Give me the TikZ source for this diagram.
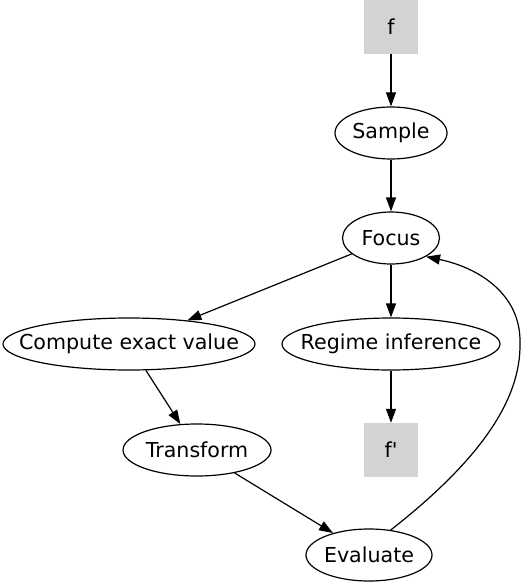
\documentclass[tikz,border=0pt]{standalone}
\usepackage{fontspec}
\setmainfont{DejaVu Sans}
\newfontfamily\rawfont{DejaVu Sans}
\usetikzlibrary{shapes.geometric,arrows.meta}
\definecolor{boxgray}{HTML}{D3D3D3}
\tikzset{
  ell/.style={ellipse, draw=black, line width=1.2pt, inner sep=0pt, minimum height=52pt, font=\rawfont\fontsize{20.6}{23}\selectfont},
  gbox/.style={rectangle, fill=boxgray, draw=none, minimum width=54pt, minimum height=54pt, inner sep=0pt, font=\rawfont\fontsize{20.6}{23}\selectfont},
  conn/.style={line width=1.2pt, -{Triangle[length=14pt,width=10pt]}}
}
\begin{document}
\begin{tikzpicture}[x=1pt,y=-1pt]
\useasboundingbox (0,0) rectangle (521,583);
\node[gbox] (f) at (391,27) {f};
\node[ell, minimum width=112pt] (sample) at (391,133) {\makebox[0pt]{Sample}};
\node[ell, minimum width=97pt] (focus) at (391,238) {\makebox[0pt]{Focus}};
\node[ell, minimum width=252pt] (compute) at (129,344) {\makebox[0pt]{Compute exact value}};
\node[ell, minimum width=218pt] (regime) at (391,344) {\makebox[0pt]{Regime inference}};
\node[gbox] (fp) at (391,450) {f'};
\node[ell, minimum width=148pt] (transform) at (197,450) {\makebox[0pt]{Transform}};
\node[ell, minimum width=126pt] (evaluate) at (369,555) {\makebox[0pt]{Evaluate}};
\draw[conn] (f) -- (sample);
\draw[conn] (sample) -- (focus);
\draw[conn] (focus) -- (compute);
\draw[conn] (focus) -- (regime);
\draw[conn] (regime) -- (fp);
\draw[conn] (compute) -- (transform);
\draw[conn] (transform) -- (evaluate);
\coordinate (r) at (520,343);
\draw[conn] (evaluate.49) .. controls (480,460) and (521,400) .. (r)
  .. controls (521,295) and (480,268) .. (focus.-28);
\end{tikzpicture}
\end{document}
